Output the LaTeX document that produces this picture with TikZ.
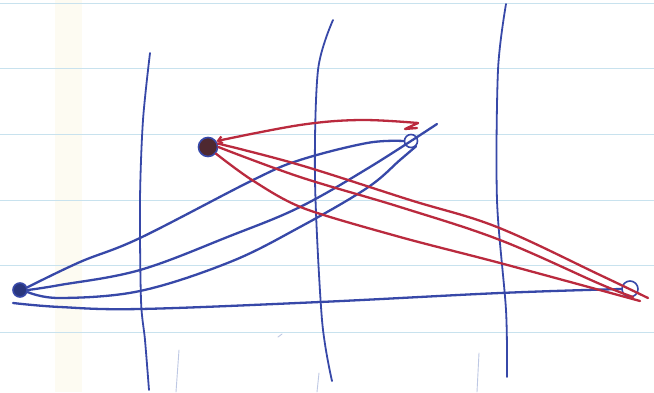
\documentclass[tikz,border=0pt]{standalone}
\usetikzlibrary{arrows.meta}
\definecolor{penblue}{RGB}{55,72,168}
\definecolor{penred}{RGB}{186,42,62}
\definecolor{rulecol}{RGB}{200,226,238}
\definecolor{bandcol}{RGB}{253,251,242}
\definecolor{darkfill}{RGB}{78,40,48}
\definecolor{faintcol}{RGB}{190,200,228}
\begin{document}
\begin{tikzpicture}[x=1pt,y=-1pt,
  inkblue/.style={draw=penblue, line width=2.3pt, line cap=round, line join=round},
  inkred/.style={draw=penred, line width=2.3pt, line cap=round, line join=round},
  rule/.style={draw=rulecol, line width=1pt},
  vert/.style={draw=penblue, line width=1.8pt, line cap=round},
  faint/.style={draw=faintcol, line width=0.9pt, line cap=round},
  pt/.style={circle, inner sep=0pt, line width=1.6pt}]
\useasboundingbox (0,0) rectangle (654,392);
\fill[white] (0,0) rectangle (654,392);
\fill[bandcol] (55,0) rectangle (82,392);
% ruled paper lines
\foreach \yy in {3,68,134,200,265,332} \draw[rule] (0,\yy) -- (654,\yy);
% vertical pen lines
\draw[vert] plot[smooth] coordinates {(150,53) (143,120) (140,200) (141,300) (145,340) (149,390)};
\draw[vert] plot[smooth] coordinates {(333,20) (318,70) (315,180) (322,320) (332,381)};
\draw[vert] plot[smooth] coordinates {(506,4) (498,70) (497,200) (506,310) (507,377)};
% faint marks
\draw[faint] (179,350) -- (176,392);
\draw[faint] (319,373) -- (317,392);
\draw[faint] (479,353) -- (477,392);
\draw[faint] (278,337) -- (282,334);
% nodes
\node[pt, draw=penblue, fill=penblue!75!black, minimum size=14pt] (A) at (20,290) {};
\node[pt, draw=penblue, fill=darkfill, minimum size=19pt] (B) at (208,147) {};
\node[pt, draw=penblue, minimum size=13pt] (C) at (411,141) {};
\node[pt, draw=penblue, minimum size=16pt] (D) at (630,289) {};
\coordinate (zig) at (418,123);
\coordinate (Dt1) at (648,298);
\coordinate (Dt2) at (633,297);
\coordinate (Dt3) at (640,301);
\coordinate (Cx) at (437,124);
\coordinate (Astart) at (13,303);
% blue connectors A -> C
\draw[inkblue] plot[smooth, tension=0.6] coordinates {(A.20) (80,262) (140,238) (253,180) (300,160) (367,143) (C.west)};
\draw[inkblue] plot[smooth, tension=0.6] coordinates {(A.0) (60,285) (140,270) (230,236) (300,207) (370,167) (Cx)};
\draw[inkblue] plot[smooth, tension=0.6] coordinates {(A.-15) (60,298) (140,291) (230,262) (300,227) (367,188) (400,160) (C.south east)};
% blue A -> D
\draw[inkblue] plot[smooth, tension=0.6] coordinates {(Astart) (60,307) (140,309) (320,302) (500,293) (D.west)};
% red arc C -> B
\draw[inkred, -{Straight Barb[length=4pt,width=7pt]}] plot[smooth, tension=0.6] coordinates {(zig) (360,120) (300,125) (B.35)};
\draw[inkred] (zig) -- (405,129) -- (417,128);
% red B -> D
\draw[inkred] plot[smooth, tension=0.6] coordinates {(B.20) (300,165) (410,200) (497,227) (600,275) (Dt1)};
\draw[inkred] plot[smooth, tension=0.6] coordinates {(B.0) (300,177) (400,207) (500,240) (600,284) (Dt2)};
\draw[inkred] plot[smooth, tension=0.5] coordinates {(B.-40) (252,180) (303,208) (400,237) (500,263) (Dt3)};
\end{tikzpicture}
\end{document}
